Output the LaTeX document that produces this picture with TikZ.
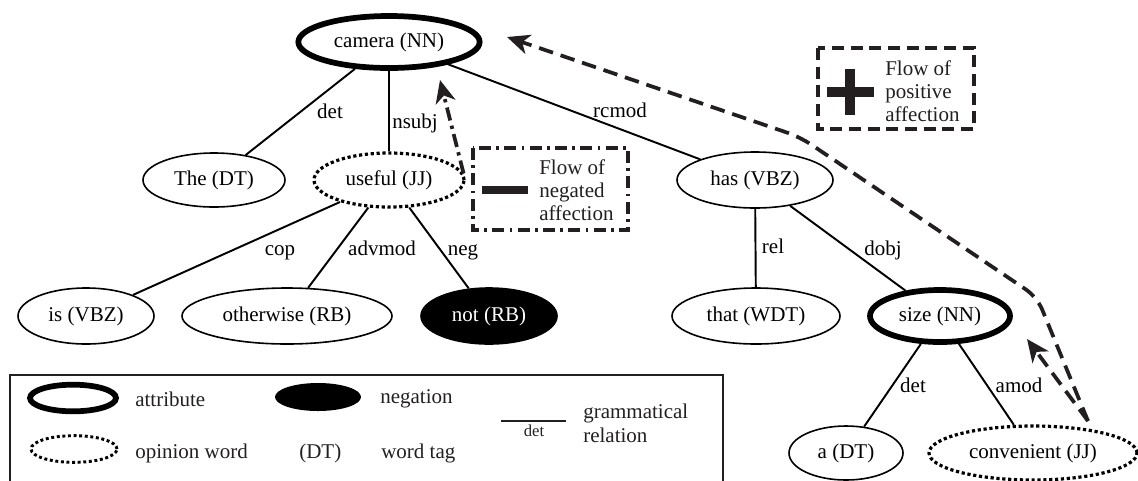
\documentclass[tikz,border=0pt]{standalone}
\usepackage{fontspec}
\setmainfont{Liberation Serif}
\usetikzlibrary{shapes.geometric,arrows.meta}
\definecolor{ink}{RGB}{35,31,32}
\newcommand{\wordsize}{\fontsize{15.75}{17.25}\selectfont}
\newcommand{\tinysize}{\fontsize{12.5}{14}\selectfont}
\begin{document}
\begin{tikzpicture}[x=0.75pt,y=-0.75pt,
  word/.style={ellipse, draw=black, line width=1.2pt, inner sep=0pt, font=\wordsize, text=black},
  attr/.style={word, line width=4.3pt},
  opin/.style={word, line width=2.4pt, dash pattern=on 2.4pt off 2pt},
  negw/.style={word, fill=black, text=white},
  relline/.style={line width=1.45pt},
  lbl/.style={font=\wordsize, anchor=base, inner sep=0pt},
  lgtext/.style={font=\wordsize, anchor=base west, inner sep=0pt, text=ink},
  tip/.style={-{Stealth[length=17pt,width=15pt,inset=5pt]}},
  flowpos/.style={draw=ink, line width=2.8pt, dash pattern=on 11pt off 6pt, tip, rounded corners=10pt},
  flowneg/.style={draw=ink, line width=2.8pt, dash pattern=on 10pt off 4pt on 2.5pt off 4pt, tip},
  boxtext/.style={font=\wordsize, align=left, anchor=west, inner sep=0pt, text=ink}
]
\useasboundingbox (0,0) rectangle (1138,480);

% dependency tree
\node[attr, minimum width=136pt, minimum height=39pt] (camera) at (389,42) {camera (NN)};
\node[word, minimum width=106.5pt, minimum height=40.5pt] (the) at (214,180) {The (DT)};
\node[opin, minimum width=112.5pt, minimum height=40.5pt] (useful) at (389,180) {useful (JJ)};
\node[word, minimum width=117pt, minimum height=42pt] (has) at (755,180) {has (VBZ)};
\node[word, minimum width=102pt, minimum height=42pt] (is) at (86,316) {is (VBZ)};
\node[word, minimum width=157.5pt, minimum height=42pt] (otherwise) at (287,316) {otherwise (RB)};
\node[negw, minimum width=102pt, minimum height=42pt] (not) at (489,316) {not (RB)};
\node[word, minimum width=126pt, minimum height=42pt] (that) at (756,316) {that (WDT)};
\node[attr, minimum width=105pt, minimum height=39pt] (size) at (940,316) {size (NN)};
\node[word, minimum width=85.5pt, minimum height=40.5pt] (a) at (846,453) {a (DT)};
\node[opin, minimum width=156pt, minimum height=40.5pt] (convenient) at (1033,453) {convenient (JJ)};

% grammatical relations
\draw[relline] (camera) -- (the);
\draw[relline] (camera) -- (useful);
\draw[relline] (camera) -- (has);
\draw[relline] (useful) -- (is);
\draw[relline] (useful) -- (otherwise);
\draw[relline] (useful) -- (not);
\draw[relline] (has) -- (that);
\draw[relline] (has) -- (size);
\draw[relline] (size) -- (a);
\draw[relline] (size) -- (convenient);

\node[lbl] (ldet) at (330,118) {det};
\node[lbl] (lnsubj) at (415,128) {nsubj};
\node[lbl] (lrcmod) at (620,117) {rcmod};
\node[lbl] (lcop) at (280,255) {cop};
\node[lbl] (ladvmod) at (382,255) {advmod};
\node[lbl] (lneg) at (463,255) {neg};
\node[lbl] (lrel) at (773,253) {rel};
\node[lbl] (ldobj) at (883,255) {dobj};
\node[lbl] (ldetb) at (913,392) {det};
\node[lbl] (lamod) at (1019,392) {amod};

% affection flows
\coordinate (negtip) at (440,80);
\draw[flowneg] (useful.5) -- (negtip);

\coordinate (flowsrc) at (1088,421);
\coordinate (bendlow) at (1037,297);
\coordinate (bendhigh) at (800,137);
\coordinate (postip) at (507,37);
\coordinate (sizetip) at (1027,339);
\draw[flowpos] (flowsrc) -- (bendlow) -- (bendhigh) -- (postip);
\draw[flowpos] (flowsrc) -- (sizetip);

% flow keys
\draw[ink, line width=2.4pt, dash pattern=on 9pt off 4pt on 2pt off 4pt] (473,148) rectangle (628,230);
\draw[ink, line width=5.5pt] (482,190) -- (528,190);
\node[boxtext] (negkey) at (539,190) {Flow of\\negated\\affection};

\draw[ink, line width=2.4pt, dash pattern=on 9pt off 5pt] (818,48) rectangle (974,129);
\draw[ink, line width=7pt] (827,92) -- (874,92);
\draw[ink, line width=7pt] (850,69) -- (850,115);
\node[boxtext] (poskey) at (885,91) {Flow of\\positive\\affection};

% legend
\draw[ink, line width=1.2pt] (10,483) -- (10,375) -- (723,375) -- (723,483);
\node[attr, minimum width=64.5pt, minimum height=20pt] (lgattr) at (73,398) {};
\node[lgtext] (tattr) at (135,406) {attribute};
\node[ellipse, fill=black, inner sep=0pt, minimum width=64.5pt, minimum height=21pt] (lgneg) at (318,397) {};
\node[lgtext] (tneg) at (380,403) {negation};
\node[opin, minimum width=64.5pt, minimum height=20pt, line width=2.2pt, dash pattern=on 2.2pt off 2pt] (lgopin) at (74,449) {};
\node[lgtext] (topin) at (135,458) {opinion word};
\node[lgtext] (tdt) at (299,458) {(DT)};
\node[lgtext] (ttag) at (381,458) {word tag};
\coordinate (lgl) at (501,421);
\coordinate (lgr) at (566,421);
\draw[ink, line width=1pt] (lgl) -- (lgr);
\node[font=\tinysize, anchor=base, inner sep=0pt, text=ink] (tdetsmall) at (534,436) {det};
\node[lgtext] (tgram) at (583,418) {grammatical};
\node[lgtext] (trel) at (583,442) {relation};
\end{tikzpicture}
\end{document}
